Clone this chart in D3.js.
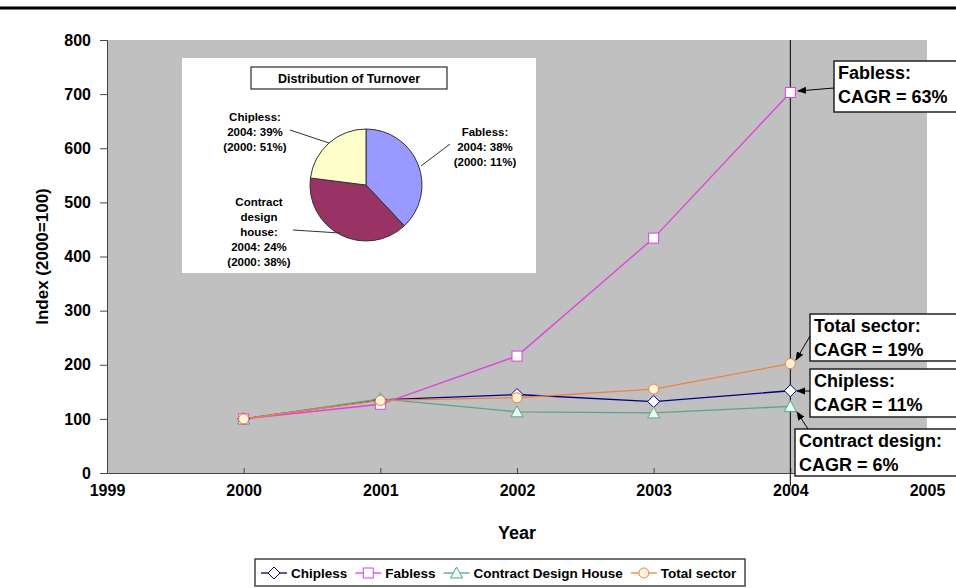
<!DOCTYPE html>
<html>
<head>
<meta charset="utf-8">
<script src="https://cdn.jsdelivr.net/npm/d3@7"></script>
<style>
  body { margin: 0; background: #fff; }
  svg text { font-family: Arial, "Liberation Sans", sans-serif; font-weight: bold; }
</style>
</head>
<body>
<svg id="chart" width="956" height="588"></svg>
<script>
// Index data, 2000 = 100
const years = [2000, 2001, 2002, 2003, 2004];
const chipless = [100, 135, 145, 132, 152];
const fabless = [100, 127, 216, 434, 703];
const contractDesign = [100, 137, 113, 111, 123];
const totalSector = [100, 134, 139, 155, 202];

const seriesNames = ['Chipless', 'Fabless', 'Contract Design House', 'Total sector'];
const yTicks = [0, 100, 200, 300, 400, 500, 600, 700, 800];
const xTicks = [1999, 2000, 2001, 2002, 2003, 2004, 2005];

// pie inset (slice sizes as drawn, labels as printed)
const pieNames = ['Fabless', 'Contract design house', 'Chipless'];
const pieValues = [38, 39, 23];
const pieLabels = [
  ['Fabless:', '2004: 38%', '(2000: 11%)'],
  ['Contract', 'design', 'house:', '2004: 24%', '(2000: 38%)'],
  ['Chipless:', '2004: 39%', '(2000: 51%)']
];

// CAGR callouts
const cagrLabels = [
  { series: 'Fabless', lines: ['Fabless:', 'CAGR = 63%'] },
  { series: 'Total sector', lines: ['Total sector:', 'CAGR = 19%'] },
  { series: 'Chipless', lines: ['Chipless:', 'CAGR = 11%'] },
  { series: 'Contract Design House', lines: ['Contract design:', 'CAGR = 6%'] }
];

const svg = d3.select('#chart');
const plot = { left: 107, right: 927, top: 40, bottom: 473 };

const x = d3.scaleLinear().domain([1999, 2005]).range([plot.left, plot.right]);
const y = d3.scaleLinear().domain([0, 800]).range([plot.bottom, plot.top]);

// top rule
svg.append('line').attr('x1', 0).attr('x2', 956).attr('y1', 8).attr('y2', 8)
  .attr('stroke', '#000').attr('stroke-width', 3);

// plot background
svg.append('rect')
  .attr('x', plot.left).attr('y', plot.top)
  .attr('width', plot.right - plot.left).attr('height', plot.bottom - plot.top)
  .attr('fill', '#c0c0c0');

// axes
const yAxis = svg.append('g').attr('transform', `translate(${plot.left},0)`)
  .call(d3.axisLeft(y).tickValues(yTicks).tickSize(7).tickPadding(9).tickFormat(d3.format('d')));
const xAxis = svg.append('g').attr('transform', `translate(0,${plot.bottom})`)
  .call(d3.axisBottom(x).tickValues(xTicks).tickSize(-5).tickPadding(12).tickFormat(d3.format('d')));
[yAxis, xAxis].forEach(a => {
  a.select('.domain').attr('stroke', '#444');
  a.selectAll('.tick line').attr('stroke', '#444');
  a.selectAll('text').attr('fill', '#000').style('font-size', '16px')
    .style('font-family', 'Arial, "Liberation Sans", sans-serif').style('font-weight', 'bold');
});

svg.append('text')
  .attr('transform', `translate(48,${(plot.top + plot.bottom) / 2}) rotate(-90)`)
  .attr('text-anchor', 'middle').style('font-size', '17px').text('Index (2000=100)');
svg.append('text').attr('x', (plot.left + plot.right) / 2).attr('y', 539)
  .attr('text-anchor', 'middle').style('font-size', '18px').text('Year');

// vertical 2004 line
svg.append('line').attr('x1', x(2004)).attr('x2', x(2004))
  .attr('y1', plot.top).attr('y2', 486).attr('stroke', '#000').attr('stroke-width', 1);

// pie inset
const inset = svg.append('g');
inset.append('rect').attr('x', 182).attr('y', 58).attr('width', 354).attr('height', 215).attr('fill', '#fff');
inset.append('rect').attr('x', 251).attr('y', 67).attr('width', 196).attr('height', 22)
  .attr('fill', '#fff').attr('stroke', '#000').attr('stroke-width', 1);
inset.append('text').attr('x', 349).attr('y', 83).attr('text-anchor', 'middle')
  .style('font-size', '12.5px').text('Distribution of Turnover');

const pieColor = d3.scaleOrdinal().domain(pieNames).range(['#9999ff', '#993366', '#ffffcc']);
const pieGen = d3.pie().sort(null)(pieValues);
const arc = d3.arc().innerRadius(0).outerRadius(56);
const pieG = inset.append('g').attr('transform', 'translate(366,185)');
pieG.selectAll('path').data(pieGen).join('path')
  .attr('d', arc).attr('fill', (d, i) => pieColor(pieNames[i]))
  .attr('stroke', '#333').attr('stroke-width', 1);

const pieLabelPos = [
  { x: 485, y: 136, line: [450, 144, 421, 166] },
  { x: 259, y: 206, line: [293, 230, 340, 233] },
  { x: 255, y: 121, line: [290, 130, 329, 143] }
];
pieLabels.forEach((lines, i) => {
  const p = pieLabelPos[i];
  const t = inset.append('text').attr('text-anchor', 'middle').style('font-size', '11.5px');
  lines.forEach((l, j) => t.append('tspan').attr('x', p.x).attr('y', p.y + j * 15).text(l));
  inset.append('line').attr('x1', p.line[0]).attr('y1', p.line[1])
    .attr('x2', p.line[2]).attr('y2', p.line[3]).attr('stroke', '#333');
});

// series
const series = [
  { name: 'Chipless', values: chipless, color: '#000080', fill: '#fff', symbol: 'diamond' },
  { name: 'Fabless', values: fabless, color: '#e040e0', fill: '#fff', symbol: 'square' },
  { name: 'Contract Design House', values: contractDesign, color: '#5aa585', fill: '#e8fff4', symbol: 'triangle' },
  { name: 'Total sector', values: totalSector, color: '#f08040', fill: '#fff4d8', symbol: 'circle' }
];

function drawMarker(g, s, cx, cy) {
  if (s.symbol === 'diamond') {
    g.append('path').attr('d', `M${cx},${cy - 6}L${cx + 6},${cy}L${cx},${cy + 6}L${cx - 6},${cy}Z`)
      .attr('fill', s.fill).attr('stroke', s.color);
  } else if (s.symbol === 'square') {
    g.append('rect').attr('x', cx - 5).attr('y', cy - 5).attr('width', 10).attr('height', 10)
      .attr('fill', s.fill).attr('stroke', s.color);
  } else if (s.symbol === 'triangle') {
    g.append('path').attr('d', `M${cx},${cy - 6}L${cx + 6},${cy + 5}L${cx - 6},${cy + 5}Z`)
      .attr('fill', s.fill).attr('stroke', s.color);
  } else {
    g.append('circle').attr('cx', cx).attr('cy', cy).attr('r', 5)
      .attr('fill', s.fill).attr('stroke', s.color);
  }
}

const line = d3.line().x((d, i) => x(years[i])).y(d => y(d));
const seriesG = svg.append('g');
series.forEach(s => {
  seriesG.append('path').datum(s.values).attr('d', line)
    .attr('fill', 'none').attr('stroke', s.color).attr('stroke-width', 1.3);
});
series.forEach(s => {
  s.values.forEach((v, i) => drawMarker(seriesG, s, x(years[i]), y(v)));
});

// CAGR callout boxes
const boxPos = {
  'Fabless': { x: 834, y: 61, h: 51, from: [834, 88], to: [798, 91] },
  'Total sector': { x: 810, y: 314, h: 47, from: [810, 336], to: [796, 360] },
  'Chipless': { x: 810, y: 369, h: 48, from: [810, 391], to: [797, 391] },
  'Contract Design House': { x: 795, y: 429, h: 47, from: [808, 429], to: [797, 412] }
};
svg.append('defs').append('marker').attr('id', 'arrow')
  .attr('viewBox', '0 0 10 10').attr('refX', 9).attr('refY', 5)
  .attr('markerWidth', 9).attr('markerHeight', 9).attr('orient', 'auto')
  .append('path').attr('d', 'M0,1L10,5L0,9Z').attr('fill', '#000');

cagrLabels.forEach(c => {
  const b = boxPos[c.series];
  svg.append('rect').attr('x', b.x).attr('y', b.y).attr('width', 200).attr('height', b.h)
    .attr('fill', '#fff').attr('stroke', '#222').attr('stroke-width', 1.5);
  const t = svg.append('text').style('font-size', '18px');
  c.lines.forEach((l, j) => t.append('tspan').attr('x', b.x + 4).attr('y', b.y + 18 + j * 24).text(l));
  svg.append('line').attr('x1', b.from[0]).attr('y1', b.from[1])
    .attr('x2', b.to[0]).attr('y2', b.to[1]).attr('stroke', '#000').attr('stroke-width', 1)
    .attr('marker-end', 'url(#arrow)');
});

// legend
const legend = svg.append('g');
legend.append('rect').attr('x', 255).attr('y', 559).attr('width', 490).attr('height', 27)
  .attr('fill', '#fff').attr('stroke', '#444').attr('stroke-width', 1.5);
let lx = 261;
const ly = 573;
series.forEach(s => {
  legend.append('line').attr('x1', lx).attr('x2', lx + 26).attr('y1', ly).attr('y2', ly)
    .attr('stroke', s.color).attr('stroke-width', 1.3);
  drawMarker(legend, s, lx + 13, ly);
  const t = legend.append('text').attr('x', lx + 30).attr('y', ly + 5).style('font-size', '13.5px').text(s.name);
  lx += 30 + t.node().getComputedTextLength() + 8;
});
</script>
</body>
</html>
